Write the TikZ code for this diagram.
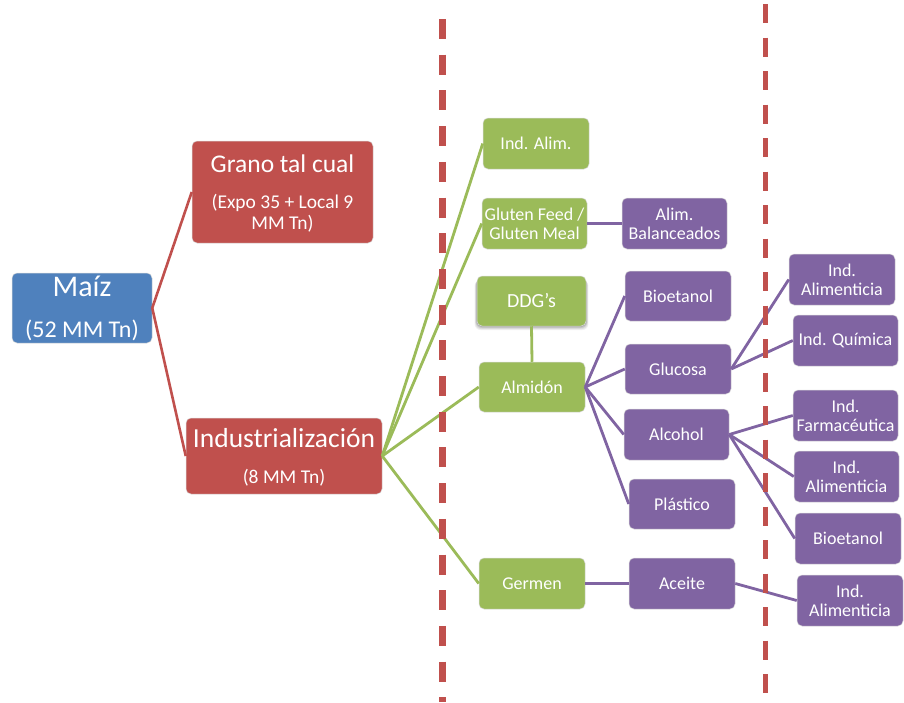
\documentclass[tikz,border=0pt]{standalone}
\usepackage{fontspec}
\setmainfont{Carlito}
\usetikzlibrary{shadows}
\definecolor{cblue}{HTML}{4F81BD}
\definecolor{cred}{HTML}{C0504D}
\definecolor{cgreen}{HTML}{9BBB59}
\definecolor{cpurple}{HTML}{8064A2}
\newcommand\bx[7]{\node[#6, minimum width={(#4-#2)*1pt}, minimum height={(#5-#3)*1pt}] (#1) at ({(#2+#4)/2},{(#3+#5)/2}) {#7};}
\begin{document}
\begin{tikzpicture}[x=1pt,y=-1pt,
  box/.style={rounded corners=5pt, draw=white!85!black, line width=0.5pt, text=white, inner sep=0pt, align=center, font=\fontsize{18}{19}\selectfont},
  gbox/.style={box, fill=cgreen},
  pbox/.style={box, fill=cpurple},
  rbox/.style={box, fill=cred},
  bbox/.style={box, fill=cblue},
  txt/.style={text=white, inner sep=0pt, anchor=base},
  rline/.style={draw=cred, line width=2.6pt},
  gline/.style={draw=cgreen, line width=2.8pt},
  pline/.style={draw=cpurple, line width=2.8pt},
  sep/.style={draw=cred, line width=#1}
]
\path[use as bounding box] (0,0) rectangle (904,702);

% connectors (drawn first, boxes on top)
\coordinate (maizE) at (152,308);
\coordinate (indusE) at (383,456);
\coordinate (almE) at (586,387);
\coordinate (gluE) at (732,368);
\coordinate (alcE) at (730,434);
\coordinate (aceE) at (735,583);

% boxes
\bx{maiz}{12}{273}{152}{343}{bbox}{}
\bx{grano}{192}{141}{373}{243}{rbox}{}
\bx{indus}{186}{418}{382}{494}{rbox}{}

\bx{indalim}{483}{118}{589}{169}{gbox}{Ind. Alim.}
\bx{gluten}{482}{198}{587}{249}{gbox}{Gluten Feed /\\Gluten Meal}
\bx{almidon}{479}{362}{585}{412}{gbox}{Almidón}
\bx{germen}{479}{558}{585}{609}{gbox}{Germen}

\bx{balan}{622}{198}{727}{249}{pbox}{Alim.\\Balanceados}
\bx{bioeta}{625}{271}{731}{321}{pbox}{Bioetanol}
\bx{glucosa}{625}{344}{731}{394}{pbox}{Glucosa}
\bx{alcohol}{624}{409}{729}{460}{pbox}{Alcohol}
\bx{plastico}{629}{479}{735}{529}{pbox}{Plástico}
\bx{aceite}{629}{558}{735}{609}{pbox}{Aceite}

\bx{alimA}{789}{254}{895}{305}{pbox}{Ind.\\Alimenticia}
\bx{quimica}{793}{315}{898}{366}{pbox}{Ind. Química}
\bx{farma}{793}{390}{898}{441}{pbox}{Ind.\\Farmacéutica}
\bx{alimB}{794}{451}{899}{502}{pbox}{Ind.\\Alimenticia}
\bx{bioetb}{795}{513}{901}{564}{pbox}{Bioetanol}
\bx{alimC}{797}{575}{903}{626}{pbox}{Ind.\\Alimenticia}

% connectors
\draw[rline] (maiz.east) -- (grano.west);
\draw[rline] (maiz.east) -- (indus.west);
\foreach \t in {indalim,gluten,almidon,germen}
  \draw[gline] (indus.east) -- (\t.west);
\draw[pline] (gluten.east) -- (balan.west);
\foreach \t in {bioeta,glucosa,alcohol,plastico}
  \draw[pline] (almidon.east) -- (\t.west);
\draw[pline] (germen.east) -- (aceite.west);
\foreach \t in {alimA,quimica}
  \draw[pline] (glucosa.east) -- (\t.west);
\foreach \t in {farma,alimB,bioetb}
  \draw[pline] (alcohol.east) -- (\t.west);
\draw[pline] (aceite.east) -- (alimC.west);

% DDG's with soft shadow
\foreach \s/\o in {4/0.06,3/0.08,2/0.10,1/0.12}
  \fill[black, opacity=\o, rounded corners=6pt] (477-\s*0.6,278+\s*0.5) rectangle (586+\s*0.6,326+\s);
\bx{ddg}{477}{276}{586}{326}{gbox}{\fontsize{20}{20}\selectfont DDG’s}
\draw[gline] (ddg.south) -- (almidon.north);

% texts of big boxes
\node[txt, font=\fontsize{30}{30}\selectfont] (maizt1) at (82,296) {Maíz};
\node[txt, font=\fontsize{24}{24}\selectfont] (maizt2) at (82,337) {(52 MM Tn)};
\node[txt, font=\fontsize{25.5}{25.5}\selectfont] (granot1) at (282.5,172) {Grano tal cual};
\node[txt, font=\fontsize{19.5}{19.5}\selectfont] (granot2) at (282.5,208) {(Expo 35 + Local 9};
\node[txt, font=\fontsize{19.5}{19.5}\selectfont] (granot3) at (282.5,229) {MM Tn)};
\node[txt, font=\fontsize{27.5}{27.5}\selectfont] (indust1) at (284,447) {Industrialización};
\node[txt, font=\fontsize{19.5}{19.5}\selectfont] (indust2) at (284,483) {(8 MM Tn)};

% separators
\coordinate (sepAtop) at (442.5,19);
\coordinate (sepAbot) at (442.5,702);
\coordinate (sepBtop) at (765.5,4);
\coordinate (sepBbot) at (765.5,694);
\draw[sep=7pt, dash pattern=on 20pt off 15.7pt] (sepAtop) -- (sepAbot);
\draw[sep=5pt, dash pattern=on 19pt off 14.5pt] (sepBtop) -- (sepBbot);
\end{tikzpicture}
\end{document}
